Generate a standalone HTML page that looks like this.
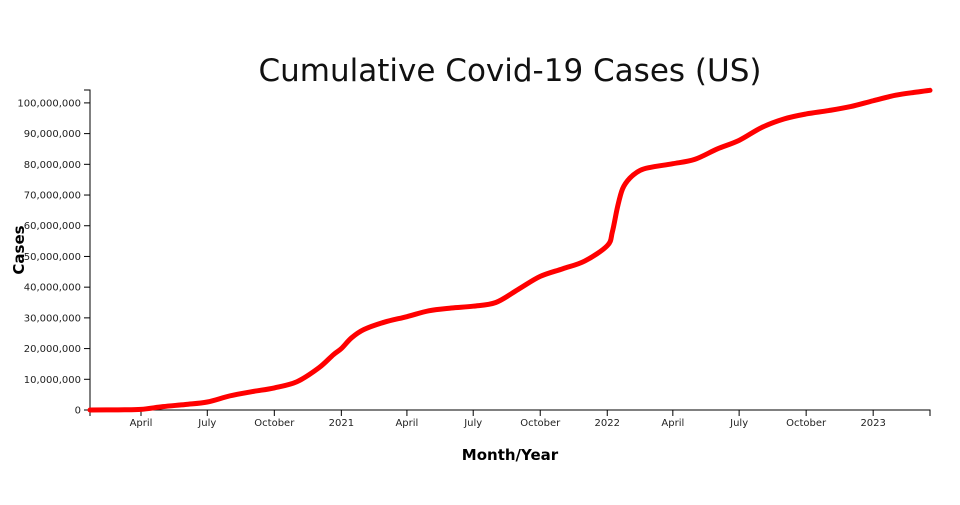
<!DOCTYPE html>
<html><head><meta charset="utf-8"><style>
body{margin:0;background:#fff;font-family:"Liberation Sans","DejaVu Sans",sans-serif}
svg text{font-family:"DejaVu Sans","Liberation Sans",sans-serif}
</style></head><body>
<svg id="chart" width="960" height="500" xmlns="http://www.w3.org/2000/svg">
<text x="510" y="81" text-anchor="middle" font-size="31" fill="#111">Cumulative Covid-19 Cases (US)</text>
<g id="yaxis"></g>
<g id="xaxis"></g>
<text transform="translate(24,250) rotate(-90)" text-anchor="middle" font-size="15" font-weight="bold">Cases</text>
<text x="510" y="460" text-anchor="middle" font-size="15" font-weight="bold">Month/Year</text>
<path id="line" fill="none" stroke="#ff0000" stroke-width="5" stroke-linejoin="round" stroke-linecap="round"></path>
</svg>
<script>
const dates=["2020-01-22","2020-03-01","2020-04-01","2020-05-01","2020-06-01","2020-07-01","2020-08-01","2020-09-01","2020-10-01","2020-11-01","2020-12-01","2020-12-21","2021-01-01","2021-01-15","2021-02-01","2021-03-01","2021-04-01","2021-05-01","2021-06-01","2021-07-01","2021-08-01","2021-09-01","2021-10-01","2021-11-01","2021-12-01","2022-01-01","2022-01-08","2022-01-15","2022-01-22","2022-02-01","2022-02-15","2022-03-01","2022-04-01","2022-05-01","2022-06-01","2022-07-01","2022-08-01","2022-09-01","2022-10-01","2022-11-01","2022-12-01","2023-01-01","2023-02-01","2023-03-01","2023-03-20"];
const cases=[0,0.05,0.2,1.1,1.8,2.6,4.6,6.0,7.2,9.2,13.7,18.0,20.0,23.5,26.2,28.6,30.4,32.3,33.2,33.8,35.0,39.3,43.5,46.0,48.5,53.5,58,66,72,75.5,78,79,80.2,81.6,85,87.8,92,94.8,96.4,97.5,98.8,100.7,102.5,103.5,104.1];
const yTicks=[0,10,20,30,40,50,60,70,80,90,100];
const xTickDates=["2020-04-01","2020-07-01","2020-10-01","2021-01-01","2021-04-01","2021-07-01","2021-10-01","2022-01-01","2022-04-01","2022-07-01","2022-10-01","2023-01-01"];
const xTickLabels=["April","July","October","2021","April","July","October","2022","April","July","October","2023"];
const NS="http://www.w3.org/2000/svg";
const x0=90,x1=930,yb=410,yt=90;
const t0=Date.parse(dates[0]),t1=Date.parse(dates[dates.length-1]);
const ymax=104.2;
function xs(d){return x0+(Date.parse(d)-t0)/(t1-t0)*(x1-x0);}
function ys(v){return yb-v/ymax*(yb-yt);}
function el(tag,attrs,parent){const e=document.createElementNS(NS,tag);for(const k in attrs)e.setAttribute(k,attrs[k]);parent.appendChild(e);return e;}
const ya=document.getElementById('yaxis'),xa=document.getElementById('xaxis');
const yl=el('path',{d:`M${x0-6},${yt}H${x0}V${yb}`,stroke:'#000',fill:'none'},ya);


yTicks.forEach(v=>{const y=ys(v);
 const t=el('line',{x1:x0-6,x2:x0,y1:y,y2:y,stroke:'#000'},ya);
 
 
 const tx=el('text',{x:x0-9,y:y+3.5,'text-anchor':'end','font-size':'10',fill:'#222'},ya);
 
 
 tx.textContent=(v*1e6).toLocaleString('en-US');});
const xl=el('path',{d:`M${x0},${yb+6}V${yb}H${x1}V${yb+6}`,stroke:'#000',fill:'none'},xa);


xTickDates.forEach((d,i)=>{const x=xs(d);
 const t=el('line',{x1:x,x2:x,y1:yb,y2:yb+6,stroke:'#000'},xa);
 
 
 const tx=el('text',{x:x,y:yb+16,'text-anchor':'middle','font-size':'10',fill:'#222'},xa);
 
 
 tx.textContent=xTickLabels[i];});
// smooth line (monotone-ish Catmull-Rom)
const P=dates.map((d,i)=>[xs(d),ys(cases[i])]);
let dstr=`M${P[0][0]},${P[0][1]}`;
for(let i=0;i<P.length-1;i++){const p0=P[Math.max(0,i-1)],p1=P[i],p2=P[i+1],p3=P[Math.min(P.length-1,i+2)];
 const c1=[p1[0]+(p2[0]-p0[0])/6,p1[1]+(p2[1]-p0[1])/6],c2=[p2[0]-(p3[0]-p1[0])/6,p2[1]-(p3[1]-p1[1])/6];
 c1[1]=Math.min(Math.max(c1[1],Math.min(p1[1],p2[1])),Math.max(p1[1],p2[1]));
 c2[1]=Math.min(Math.max(c2[1],Math.min(p1[1],p2[1])),Math.max(p1[1],p2[1]));
 dstr+=`C${c1[0]},${c1[1]} ${c2[0]},${c2[1]} ${p2[0]},${p2[1]}`;}
document.getElementById('line').setAttribute('d',dstr);
</script>
</body></html>
